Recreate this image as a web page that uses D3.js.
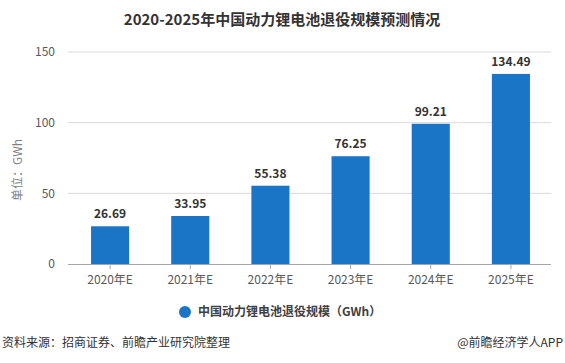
<!DOCTYPE html>
<html>
<head>
<meta charset="utf-8">
<script src="https://cdn.jsdelivr.net/npm/d3@7"></script>
<style>
  body { margin: 0; background: #fff; }
  text { font-family: "Microsoft YaHei", "Noto Sans CJK SC", sans-serif; }
</style>
</head>
<body>
<div id="chart"></div>
<script>
// chart data
var years = ["2020年E", "2021年E", "2022年E", "2023年E", "2024年E", "2025年E"];
var values = [26.69, 33.95, 55.38, 76.25, 99.21, 134.49];
var yTicks = [0, 50, 100, 150];

var svgWidth = 565;
var svgHeight = 363;

var margin = { top: 52, right: 14, bottom: 99, left: 70 };
var width = svgWidth - margin.left - margin.right;
var height = svgHeight - margin.top - margin.bottom;

var svg = d3.select("#chart")
  .append("svg")
  .attr("width", svgWidth)
  .attr("height", svgHeight);

// title
svg.append("text")
  .attr("x", 282)
  .attr("y", 25)
  .attr("text-anchor", "middle")
  .attr("font-size", "15px")
  .attr("font-weight", "bold")
  .attr("fill", "#333")
  .text("2020-2025年中国动力锂电池退役规模预测情况");

var chartGroup = svg.append("g")
  .attr("transform", `translate(${margin.left}, ${margin.top})`);

var x = d3.scaleBand()
  .domain(years)
  .range([0, width])
  .paddingInner(0.525)
  .paddingOuter(0.2625);

var y = d3.scaleLinear()
  .domain([0, 150])
  .range([height, 0]);

// gridlines
chartGroup.append("g")
  .selectAll("line")
  .data(yTicks.filter(d => d > 0))
  .join("line")
  .attr("x1", -2)
  .attr("x2", width)
  .attr("y1", d => y(d))
  .attr("y2", d => y(d))
  .attr("stroke", "#d9d9d9")
  .attr("stroke-width", 1);

// y axis labels
var leftAxis = d3.axisLeft(y).tickValues(yTicks).tickSize(0).tickPadding(15);
var yAxis = chartGroup.append("g").call(leftAxis);
yAxis.select(".domain").remove();
yAxis.selectAll("text")
  .attr("font-size", "12px")
  .attr("fill", "#595959");

// bars
chartGroup.selectAll("rect.bar")
  .data(values)
  .join("rect")
  .attr("class", "bar")
  .attr("x", (d, i) => x(years[i]))
  .attr("y", d => y(d))
  .attr("width", x.bandwidth())
  .attr("height", d => height - y(d))
  .attr("fill", "#1a75c6");

// value labels
chartGroup.selectAll("text.val")
  .data(values)
  .join("text")
  .attr("class", "val")
  .attr("x", (d, i) => x(years[i]) + x.bandwidth() / 2)
  .attr("y", d => y(d) - 8)
  .attr("text-anchor", "middle")
  .attr("font-size", "12px")
  .attr("font-weight", "bold")
  .attr("fill", "#333")
  .text(d => d.toFixed(2));

// x axis
var bottomAxis = d3.axisBottom(x).tickSize(5).tickSizeOuter(0).tickPadding(6);
var xAxis = chartGroup.append("g")
  .attr("transform", `translate(0, ${height})`)
  .call(bottomAxis);
xAxis.select(".domain").attr("stroke", "#a6a6a6").attr("d", `M-2,0.5H${width}`);
xAxis.selectAll(".tick line").attr("stroke", "#a6a6a6");
xAxis.selectAll("text")
  .attr("font-size", "12px")
  .attr("fill", "#595959");

// y axis title
svg.append("text")
  .attr("transform", "translate(22, 170) rotate(-90)")
  .attr("text-anchor", "middle")
  .attr("font-size", "12px")
  .attr("fill", "#7f7f7f")
  .text("单位：GWh");

// legend
svg.append("circle")
  .attr("cx", 185)
  .attr("cy", 312)
  .attr("r", 6)
  .attr("fill", "#1a75c6");

svg.append("text")
  .attr("x", 198)
  .attr("y", 316)
  .attr("font-size", "12px")
  .attr("font-weight", "bold")
  .attr("fill", "#404040")
  .text("中国动力锂电池退役规模（GWh）");

// footer
svg.append("text")
  .attr("x", 2)
  .attr("y", 347)
  .attr("font-size", "12px")
  .attr("fill", "#333")
  .text("资料来源：招商证券、前瞻产业研究院整理");

svg.append("text")
  .attr("x", 563)
  .attr("y", 347)
  .attr("text-anchor", "end")
  .attr("font-size", "12px")
  .attr("fill", "#333")
  .text("@前瞻经济学人APP");
</script>
</body>
</html>
